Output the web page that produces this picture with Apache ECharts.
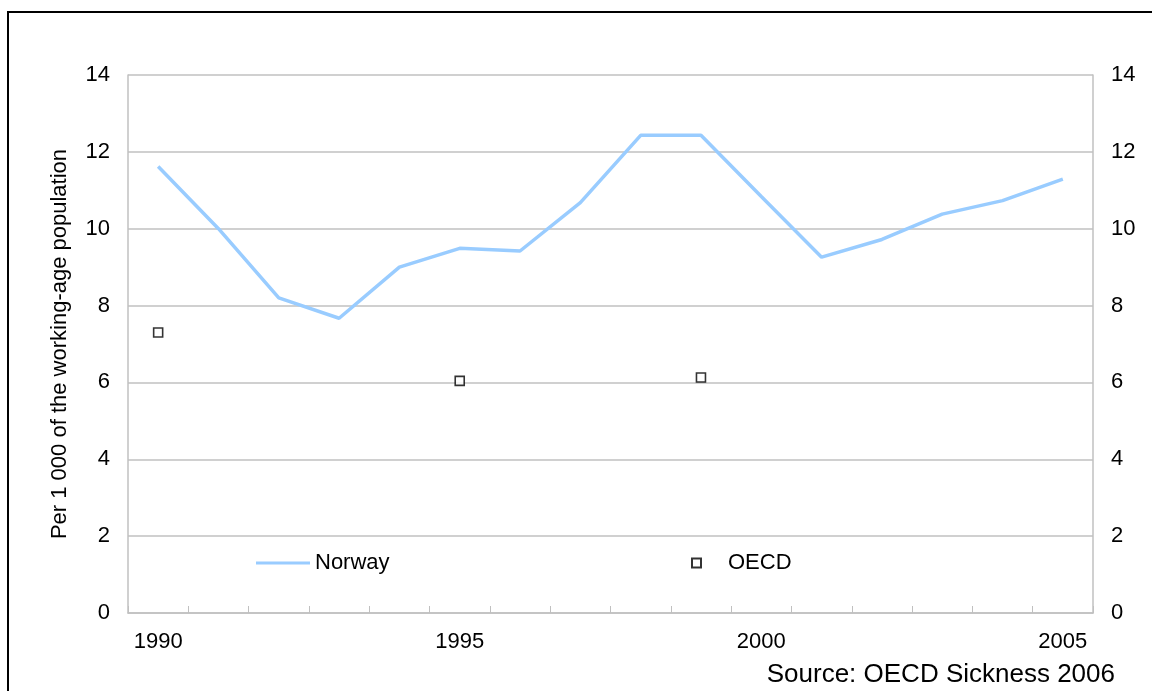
<!DOCTYPE html>
<html>
<head>
<meta charset="utf-8">
<script src="https://cdn.jsdelivr.net/npm/echarts@6/dist/echarts.min.js"></script>
<style>
  html, body { margin: 0; padding: 0; background: #fff; }
  #main { width: 1152px; height: 691px; }
</style>
</head>
<body>
<div id="main"></div>
<script>
  // years on the x axis
  const years = ['1990', '1991', '1992', '1993', '1994', '1995', '1996', '1997',
    '1998', '1999', '2000', '2001', '2002', '2003', '2004', '2005']
  // per 1 000 of the working-age population
  const norway = [11.62, 10.0, 8.2, 7.67, 9.0, 9.49, 9.42, 10.68,
    12.43, 12.43, 10.84, 9.26, 9.72, 10.38, 10.73, 11.29]
  const oecd = [7.30, null, null, null, null, 6.04, null, null,
    null, 6.13, null, null, null, null, null, null]
  const yTicks = [0, 2, 4, 6, 8, 10, 12, 14]

  const font = 'Liberation Sans, Arial, sans-serif'
  const gridColor = '#c0c0c0'

  const myChart = echarts.init(document.getElementById('main'))

  const yAxisBase = {
    type: 'value',
    min: yTicks[0],
    max: yTicks[yTicks.length - 1],
    interval: 2,
    axisLine: { show: true, lineStyle: { color: gridColor, width: 1.5 } },
    axisTick: { show: false },
    axisLabel: { color: '#000', fontSize: 22, fontFamily: font, margin: 18 }
  }

  myChart.setOption({
    animation: false,
    backgroundColor: '#fff',
    textStyle: { fontFamily: font },
    grid: { left: 128, right: 59, top: 75, bottom: 78 },
    legend: [{
        data: [{ name: 'Norway', icon: 'rect' }],
        left: 251,
        top: 547,
        itemWidth: 54,
        itemHeight: 3,
        textStyle: { color: '#000', fontSize: 22, fontFamily: font }
      },
      {
        data: [{ name: 'OECD', icon: 'rect' }],
        left: 686,
        top: 547,
        itemWidth: 9,
        itemHeight: 9,
        textStyle: { color: '#000', fontSize: 22, fontFamily: font, padding: [0, 0, 0, 22] }
      }
    ],
    xAxis: {
      type: 'category',
      data: years,
      boundaryGap: true,
      axisLine: { show: true, lineStyle: { color: gridColor, width: 1.5 } },
      axisTick: { show: true, inside: true, length: 7, interval: 0, lineStyle: { color: gridColor } },
      axisLabel: {
        color: '#000',
        fontSize: 22,
        fontFamily: font,
        margin: 18,
        interval: function(index) {
          return index % 5 === 0
        }
      },
      splitLine: { show: false }
    },
    yAxis: [
      Object.assign({}, yAxisBase, {
        position: 'left',
        name: 'Per 1 000 of the working-age population',
        nameLocation: 'middle',
        nameGap: 57,
        nameTextStyle: { color: '#000', fontSize: 22, fontFamily: font },
        splitLine: { show: true, lineStyle: { color: gridColor, width: 1.5 } }
      }),
      Object.assign({}, yAxisBase, {
        position: 'right',
        splitLine: { show: false }
      })
    ],
    series: [{
        name: 'Norway',
        type: 'line',
        data: norway,
        symbol: 'none',
        lineStyle: { color: '#99ccff', width: 3.5 },
        itemStyle: { color: '#99ccff' }
      },
      {
        name: 'OECD',
        type: 'scatter',
        data: oecd,
        symbol: 'rect',
        symbolSize: 9,
        itemStyle: { color: '#fff', borderColor: '#000', borderWidth: 1.6 }
      }
    ],
    graphic: [{
        type: 'rect',
        shape: { x: 8, y: 12, width: 1160, height: 700 },
        style: { fill: null, stroke: '#000', lineWidth: 2 },
        silent: true
      },
      {
        type: 'text',
        right: 37,
        top: 662,
        style: { text: 'Source: OECD Sickness 2006', fill: '#000', font: '26px ' + font }
      }
    ]
  })
</script>
</body>
</html>
